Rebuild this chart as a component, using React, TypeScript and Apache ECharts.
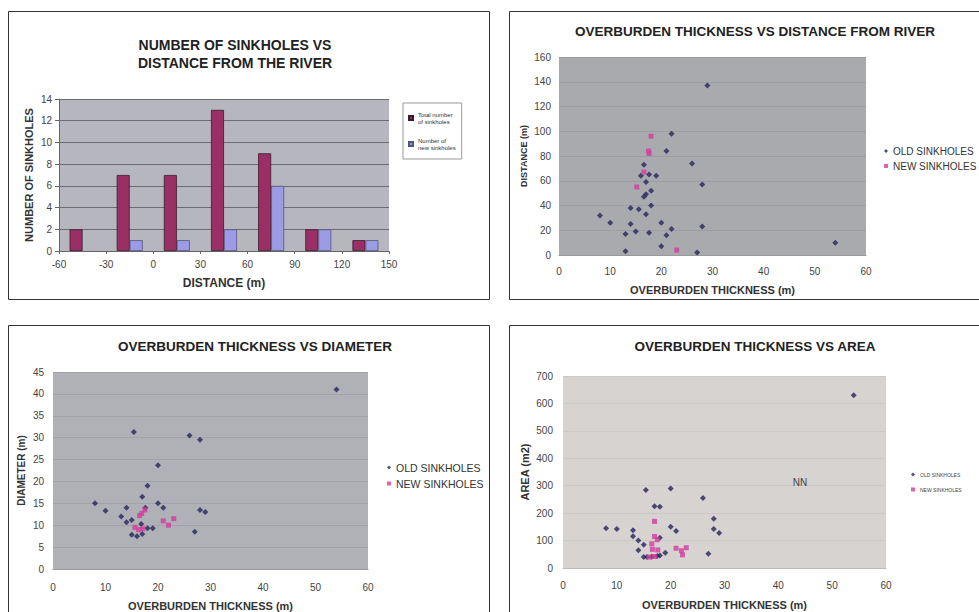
import React, { useEffect, useRef } from "react";
import * as echarts from "echarts";

// Panel 1: number of sinkholes per distance bin
const binCategories = ["-60 – -30", "-30 – 0", "0 – 30", "30 – 60", "60 – 90", "90 – 120", "120 – 150"];
const totalSinkholes = [2, 7, 7, 13, 9, 2, 1];
const newSinkholes = [null, 1, 1, 2, 6, 2, 1];
const distanceTicks = { min: -60, max: 150, interval: 30 };

// Panel 2: overburden thickness (m) vs distance from river (m)
const distOld = [
  [29, 137], [22, 98], [21, 84], [26, 74], [16.6, 73], [16, 64], [17.6, 65], [19, 64], [28, 57], [17, 59],
  [18, 52], [17, 49], [16.6, 47], [18, 40], [14, 38], [15.6, 37], [17, 33], [8, 32], [10, 26], [20, 26],
  [14, 25], [28, 23], [22, 21], [13, 17], [15, 19], [17.6, 18], [21, 16], [54, 10], [20, 7], [13, 3], [27, 2],
];
const distNew = [[18, 96], [17.5, 84], [17.6, 82], [15.2, 55], [16.6, 67], [23, 4]];

// Panel 3: overburden thickness (m) vs diameter (m)
const diamOld = [
  [54, 41], [15.4, 31.3], [26, 30.5], [28, 29.5], [20, 23.7], [18, 19], [17, 16.5], [8, 15], [20, 15],
  [10, 13.3], [14, 14], [17.6, 14], [21, 14], [28, 13.5], [29, 13], [13, 12], [15, 11.2], [14, 10.7],
  [16.8, 10.3], [18, 9.3], [19, 9.3], [27, 8.5], [15, 7.8], [16, 7.5], [17, 8],
];
const diamNew = [
  [16.9, 12.7], [16.5, 12.2], [21, 11], [23, 11.5], [22, 10], [15.6, 9.5], [16.3, 9], [17.1, 9.2], [17.5, 13.5],
];

// Panel 4: overburden thickness (m) vs area (m2)
const areaOld = [
  [54, 630], [15.4, 284], [20, 290], [26, 255], [17, 225], [18, 223], [28, 180], [8, 145], [10, 142],
  [13, 138], [20, 150], [21, 135], [28, 142], [29, 128], [13, 116], [18, 110], [14, 100], [15, 85],
  [14, 65], [19, 56], [27, 52], [15, 40], [15.6, 40], [16.5, 41], [17.5, 44], [18, 46],
];
const areaNew = [
  [17, 170], [17, 115], [17.5, 103], [16.5, 88], [16.6, 68], [17.6, 66], [21, 72], [22.9, 74], [22, 63],
  [22.2, 48], [16, 40], [17, 42],
];

const OLD = "OLD SINKHOLES";
const NEW = "NEW SINKHOLES";
const FONT = "Liberation Sans, Arial, sans-serif";

export default function App() {
  const ref = useRef<HTMLDivElement>(null);
  useEffect(() => {
    if (!ref.current) return;
    const chart = echarts.init(ref.current, null, { renderer: "svg" });
    const labelStyle = { color: "#444", fontSize: 10, fontFamily: FONT };
    const nameStyle = (fontSize: number) => ({ color: "#333", fontSize, fontWeight: "bold" as const, fontFamily: FONT });
    const valX = (grid: number, labelMargin: number, nameGap: number, lineColor: string) => ({
      type: "value",
      gridIndex: grid,
      min: 0,
      max: 60,
      interval: 10,
      name: "OVERBURDEN THICKNESS (m)",
      nameLocation: "middle",
      nameGap,
      nameTextStyle: nameStyle(11),
      axisLine: { show: true, lineStyle: { color: lineColor } },
      axisTick: { show: false },
      axisLabel: { ...labelStyle, margin: labelMargin },
      splitLine: { show: false },
    });
    const valY = (grid: number, max: number, interval: number, name: string, nameSize: number, nameGap: number, margin: number, split: string) => ({
      type: "value",
      gridIndex: grid,
      min: 0,
      max,
      interval,
      name,
      nameLocation: "middle",
      nameGap,
      nameTextStyle: nameStyle(nameSize),
      axisLine: { show: false },
      axisTick: { show: false },
      axisLabel: { ...labelStyle, margin },
      splitLine: { show: true, lineStyle: { color: split, width: 1 } },
    });
    const oldStyle = { color: "#25255c" };
    const newStyle = { color: "#d23c9e" };
    const scatter = (name: string, data: number[][], xi: number, yi: number, isNew: boolean) => ({
      type: "scatter",
      name,
      data,
      xAxisIndex: xi,
      yAxisIndex: yi,
      symbol: isNew ? "rect" : "diamond",
      symbolSize: isNew ? 5 : 6,
      itemStyle: isNew ? newStyle : oldStyle,
    });
    const frame = (x: number, y: number, w: number, h: number) => ({
      type: "rect",
      shape: { x, y, width: w, height: h },
      style: { fill: "#fff", stroke: "#333", lineWidth: 1 },
      z: -10,
      silent: true,
    });
    const titleStyle = (fontSize: number) => ({ fontSize, fontWeight: "bold", color: "#222", fontFamily: FONT });

    chart.setOption({
      animation: false,
      backgroundColor: "#fff",
      textStyle: { fontFamily: FONT },
      graphic: [
        frame(8.5, 11.5, 481, 288),
        frame(509.5, 11.5, 480, 288),
        frame(8.5, 325.5, 481, 300),
        frame(509.5, 325.5, 480, 300),
        {
          type: "text",
          x: 800,
          y: 482,
          style: { text: "NN", fill: "#444", fontSize: 10, fontFamily: FONT, align: "center", verticalAlign: "middle" },
          z: 10,
        },
      ],
      title: [
        {
          text: "NUMBER OF SINKHOLES VS\nDISTANCE FROM THE RIVER",
          left: 230,
          top: 31,
          textAlign: "center",
          textStyle: { ...titleStyle(14), lineHeight: 18 },
        },
        { text: "OVERBURDEN THICKNESS VS DISTANCE FROM RIVER", left: 750, top: 19, textAlign: "center", textStyle: titleStyle(13.5) },
        { text: "OVERBURDEN THICKNESS VS DIAMETER", left: 250, top: 334, textAlign: "center", textStyle: titleStyle(13.5) },
        { text: "OVERBURDEN THICKNESS VS AREA", left: 750, top: 334, textAlign: "center", textStyle: titleStyle(13.5) },
      ],
      legend: [
        {
          data: [
            { name: "Total number of sinkholes", icon: "rect" },
            { name: "Number of new sinkholes", icon: "rect" },
          ],
          orient: "vertical",
          left: 403,
          top: 103,
          width: 60,
          padding: [8, 6, 8, 5],
          itemGap: 12,
          itemWidth: 4,
          itemHeight: 4,
          borderColor: "#999",
          borderWidth: 1,
          backgroundColor: "#fff",
          formatter: (n: string) => (n.startsWith("Total") ? "Total number\nof sinkholes" : "Number of\nnew sinkholes"),
          textStyle: { fontSize: 6, color: "#333", lineHeight: 7, fontFamily: FONT },
        },
        {
          data: [{ name: OLD, icon: "diamond" }, { name: NEW, icon: "rect" }],
          orient: "vertical",
          left: 879,
          top: 141,
          itemGap: 5,
          itemWidth: 4,
          itemHeight: 4,
          textStyle: { fontSize: 10, color: "#333", fontFamily: FONT },
        },
        {
          data: [{ name: OLD, icon: "diamond" }, { name: NEW, icon: "rect" }],
          orient: "vertical",
          left: 382,
          top: 457,
          itemGap: 5,
          itemWidth: 4,
          itemHeight: 4,
          textStyle: { fontSize: 10.5, color: "#333", fontFamily: FONT },
        },
        {
          data: [{ name: OLD, icon: "diamond" }, { name: NEW, icon: "rect" }],
          orient: "vertical",
          left: 906,
          top: 467,
          itemGap: 10,
          itemWidth: 4,
          itemHeight: 4,
          textStyle: { fontSize: 5, color: "#444", fontFamily: FONT },
        },
      ],
      grid: [
        { left: 59, top: 99, width: 330, height: 152, show: true, backgroundColor: "#b6b6be", borderWidth: 0 },
        { left: 559, top: 57, width: 307, height: 198, show: true, backgroundColor: "#a8aaae", borderWidth: 0 },
        { left: 53, top: 372, width: 315, height: 197, show: true, backgroundColor: "#b0b1b6", borderWidth: 0 },
        { left: 563, top: 376, width: 323, height: 192, show: true, backgroundColor: "#d7d3d1", borderWidth: 0 },
      ],
      xAxis: [
        { type: "category", gridIndex: 0, data: binCategories, show: false },
        {
          type: "value",
          gridIndex: 0,
          min: distanceTicks.min,
          max: distanceTicks.max,
          interval: distanceTicks.interval,
          position: "bottom",
          name: "DISTANCE (m)",
          nameLocation: "middle",
          nameGap: 26,
          nameTextStyle: nameStyle(12),
          axisLine: { show: true, onZero: false, lineStyle: { color: "#666" } },
          axisTick: { show: true, inside: false, length: 3, lineStyle: { color: "#666" } },
          axisLabel: { ...labelStyle, margin: 8 },
          splitLine: { show: false },
        },
        valX(1, 11, 29, "#999"),
        valX(2, 13, 31, "#999"),
        valX(3, 12, 31, "#bbb"),
      ],
      yAxis: [
        {
          type: "value",
          gridIndex: 0,
          min: 0,
          max: 14,
          interval: 2,
          name: "NUMBER OF SINKHOLES",
          nameLocation: "middle",
          nameGap: 25,
          nameTextStyle: nameStyle(11),
          axisLine: { show: true, onZero: false, lineStyle: { color: "#666" } },
          axisTick: { show: true, length: 4, lineStyle: { color: "#666" } },
          axisLabel: { ...labelStyle, margin: 7 },
          splitLine: { show: true, lineStyle: { color: "#6c6c70", width: 1 } },
        },
        valY(1, 160, 20, "DISTANCE (m)", 9, 31, 8, "#9c9ea3"),
        valY(2, 45, 5, "DIAMETER (m)", 10, 27, 9, "#a2a3a8"),
        valY(3, 700, 100, "AREA (m2)", 11, 33, 10, "#ccc8c6"),
      ],
      series: [
        {
          type: "bar",
          name: "Total number of sinkholes",
          data: totalSinkholes,
          xAxisIndex: 0,
          yAxisIndex: 0,
          barWidth: 13,
          barGap: "0%",
          itemStyle: { color: "#9a2f66", borderColor: "#3a1a2a", borderWidth: 0.8 },
        },
        {
          type: "bar",
          name: "Number of new sinkholes",
          data: newSinkholes,
          xAxisIndex: 0,
          yAxisIndex: 0,
          barWidth: 13,
          barGap: "0%",
          itemStyle: { color: "#9b9be6", borderColor: "#55557a", borderWidth: 0.8 },
        },
        scatter(OLD, distOld, 2, 1, false),
        scatter(NEW, distNew, 2, 1, true),
        scatter(OLD, diamOld, 3, 2, false),
        scatter(NEW, diamNew, 3, 2, true),
        scatter(OLD, areaOld, 4, 3, false),
        scatter(NEW, areaNew, 4, 3, true),
      ],
    });
    return () => chart.dispose();
  }, []);
  return <div ref={ref} style={{ position: "fixed", left: 0, top: 0, width: 979, height: 612 }} />;
}
